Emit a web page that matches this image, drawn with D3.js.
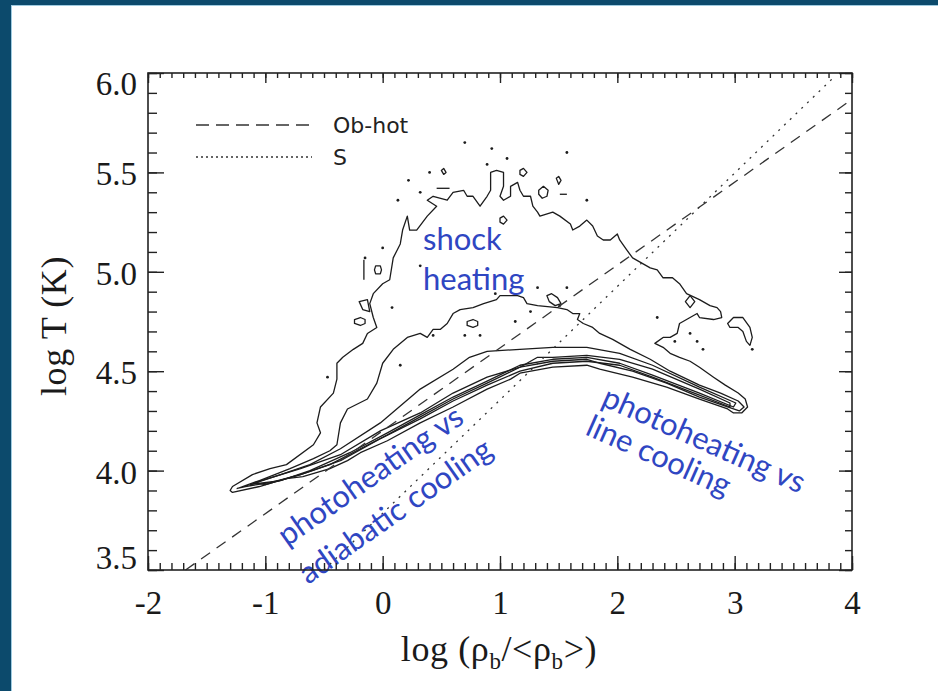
<!DOCTYPE html>
<html>
<head>
	<script src="https://d3js.org/d3.v7.min.js"></script>
	<title></title>
	<style type="text/css">
		body{ margin:0; background:#fff; }
		#chart{ width:938px; height:691px; }
		.contour { fill:none; stroke:#1c1c1c; stroke-width:1.3px; stroke-linejoin:round; }
		.ref { fill:none; stroke:#333; stroke-width:1.3px; }
		.tick text { font-family:"Liberation Serif", serif; font-size:33px; fill:#1a1a1a; }
		.note { font-family:Lato, sans-serif; font-size:31px; fill:#2f46c2; }
	</style>
</head>
<body>
<div id="chart"></div>
<script type="text/javascript">

// axis ticks
var xTicks = [-2, -1, 0, 1, 2, 3, 4];
var yTicks = [3.5, 4.0, 4.5, 5.0, 5.5, 6.0];

// reference lines (log rho, log T)
var obHot = [[-1.68, 3.50], [3.97, 5.855]];
var sLine = [[-0.50, 3.50], [3.83, 5.97]];

// contours, outermost first
var contour1 = [[-1.30,3.90],[-1.28,3.92],[-1.11,3.98],[-0.96,4.01],[-0.82,4.03],[-0.59,4.13],[-0.53,4.19],[-0.56,4.24],[-0.53,4.32],[-0.42,4.39],[-0.39,4.46],[-0.39,4.54],[-0.34,4.57],[-0.25,4.61],[-0.17,4.64],[-0.13,4.69],[-0.05,4.72],[-0.08,4.77],[-0.11,4.84],[-0.08,4.89],[0.00,4.94],[0.06,4.96],[0.09,5.07],[0.15,5.14],[0.17,5.21],[0.21,5.28],[0.23,5.21],[0.29,5.21],[0.38,5.28],[0.46,5.33],[0.38,5.36],[0.43,5.38],[0.55,5.36],[0.60,5.40],[0.69,5.41],[0.72,5.38],[0.77,5.38],[0.83,5.33],[0.89,5.38],[0.92,5.41],[0.92,5.50],[0.97,5.51],[1.03,5.50],[1.03,5.43],[1.00,5.38],[1.03,5.36],[1.09,5.38],[1.09,5.43],[1.15,5.45],[1.17,5.41],[1.20,5.38],[1.26,5.38],[1.28,5.33],[1.32,5.30],[1.34,5.28],[1.45,5.30],[1.51,5.28],[1.60,5.24],[1.62,5.21],[1.68,5.23],[1.74,5.26],[1.79,5.23],[1.83,5.18],[1.88,5.16],[1.94,5.16],[2.00,5.19],[2.02,5.16],[2.08,5.11],[2.13,5.07],[2.22,5.04],[2.28,5.02],[2.34,5.01],[2.39,4.97],[2.47,4.97],[2.53,4.94],[2.59,4.89],[2.70,4.86],[2.79,4.83],[2.85,4.82],[2.88,4.80],[2.89,4.77],[2.82,4.76],[2.70,4.77],[2.68,4.79],[2.59,4.76],[2.53,4.74],[2.51,4.69],[2.45,4.67],[2.39,4.67],[2.32,4.64],[2.39,4.62],[2.45,4.59],[2.53,4.57],[2.62,4.55],[2.70,4.52],[2.82,4.47],[2.92,4.43],[3.03,4.39],[3.09,4.36],[3.11,4.32],[3.06,4.29],[2.99,4.29],[2.94,4.31],[2.70,4.36],[2.42,4.42],[2.13,4.47],[1.85,4.51],[1.74,4.53],[1.45,4.52],[1.17,4.49],[1.09,4.46],[0.89,4.41],[0.60,4.32],[0.32,4.24],[0.04,4.15],[-0.19,4.09],[-0.30,4.05],[-0.45,4.01],[-0.68,3.97],[-0.82,3.96],[-0.94,3.94],[-1.05,3.92],[-1.28,3.89]];

var contour2 = [[-1.24,3.91],[-1.05,3.95],[-0.79,4.01],[-0.59,4.06],[-0.45,4.10],[-0.39,4.13],[-0.36,4.24],[-0.30,4.31],[-0.13,4.36],[-0.05,4.44],[0.00,4.54],[0.09,4.61],[0.21,4.67],[0.32,4.69],[0.38,4.67],[0.43,4.71],[0.49,4.71],[0.55,4.74],[0.60,4.79],[0.66,4.81],[0.77,4.82],[0.86,4.84],[0.97,4.86],[1.00,4.88],[1.15,4.88],[1.20,4.87],[1.23,4.84],[1.32,4.83],[1.49,4.82],[1.57,4.81],[1.62,4.79],[1.68,4.79],[1.66,4.76],[1.71,4.74],[1.79,4.72],[1.85,4.69],[1.96,4.66],[2.11,4.61],[2.28,4.56],[2.45,4.50],[2.70,4.43],[2.88,4.39],[3.03,4.35],[3.08,4.32],[3.04,4.30],[2.94,4.32],[2.70,4.37],[2.42,4.44],[2.13,4.50],[1.85,4.54],[1.74,4.56],[1.45,4.55],[1.17,4.52],[0.89,4.44],[0.60,4.36],[0.32,4.27],[0.04,4.18],[-0.19,4.11],[-0.45,4.03],[-0.70,3.98],[-0.96,3.94],[-1.17,3.92]];

var contour3 = [[-1.13,3.93],[-0.87,3.98],[-0.62,4.03],[-0.36,4.11],[-0.02,4.24],[0.32,4.41],[0.60,4.51],[0.74,4.57],[0.89,4.60],[1.17,4.61],[1.45,4.62],[1.74,4.62],[2.02,4.59],[2.30,4.53],[2.70,4.42],[3.01,4.34],[2.99,4.32],[2.70,4.39],[2.30,4.48],[2.02,4.54],[1.74,4.57],[1.45,4.56],[1.17,4.53],[0.89,4.45],[0.60,4.37],[0.32,4.28],[0.04,4.19],[-0.28,4.09],[-0.62,4.00],[-0.87,3.95]];

var contour4 = [[-1.09,3.94],[-0.70,4.01],[-0.36,4.08],[-0.02,4.20],[0.32,4.29],[0.60,4.39],[0.89,4.47],[1.17,4.52],[1.32,4.57],[1.45,4.57],[1.74,4.58],[2.02,4.56],[2.30,4.51],[2.70,4.41],[2.96,4.34],[2.96,4.32],[2.70,4.38],[2.30,4.47],[2.02,4.53],[1.74,4.55],[1.45,4.54],[1.17,4.50],[0.89,4.43],[0.60,4.35],[0.32,4.26],[-0.02,4.16],[-0.36,4.05],[-0.70,3.98],[-1.00,3.93]];

// small closed islands of the outer level
var islands = [
	[[-0.06,5.03],[-0.02,5.03],[-0.01,5.01],[-0.02,4.99],[-0.06,4.99],[-0.07,5.01]],
	[[-0.24,4.76],[-0.19,4.77],[-0.15,4.76],[-0.15,4.74],[-0.19,4.73],[-0.24,4.74]],
	[[-0.20,4.85],[-0.13,4.86],[-0.11,4.80],[-0.17,4.81]],
	[[1.17,5.51],[1.20,5.52],[1.23,5.50],[1.20,5.48],[1.17,5.49]],
	[[1.33,5.41],[1.37,5.43],[1.41,5.41],[1.40,5.38],[1.36,5.37],[1.33,5.39]],
	[[1.00,5.27],[1.03,5.28],[1.06,5.26],[1.03,5.24],[1.00,5.25]],
	[[1.48,5.47],[1.50,5.48],[1.52,5.46],[1.50,5.44]],
	[[0.50,5.51],[0.52,5.52],[0.54,5.50],[0.52,5.49]],
	[[0.72,4.75],[0.77,4.76],[0.81,4.75],[0.81,4.73],[0.77,4.72],[0.72,4.73]],
	[[1.40,4.88],[1.44,4.89],[1.49,4.87],[1.52,4.84],[1.47,4.83],[1.42,4.85]],
	[[2.58,4.85],[2.62,4.88],[2.66,4.85],[2.62,4.82]],
	[[2.94,4.74],[2.99,4.77],[3.07,4.77],[3.13,4.72],[3.15,4.67],[3.13,4.63],[3.10,4.65],[3.07,4.70],[3.03,4.72],[2.96,4.72]]
];

// short open bits
var bits = [
	[[0.46,5.42],[0.57,5.42]],
	[[1.51,5.39],[1.57,5.39]],
	[[-0.16,5.06],[-0.16,4.96]]
];

// single specks
var specks = [[0.70,5.65],[1.57,5.60],[1.74,5.36],[0.40,5.50],[0.22,5.46],[0.32,5.40],[0.13,5.36],[0.89,5.54],[1.06,5.57],[0.93,5.62],[-0.15,5.07],[0.00,5.12],[0.32,5.03],[0.96,4.89],[1.13,4.75],[1.26,4.80],[1.51,4.83],[0.08,4.82],[0.15,4.53],[-0.47,4.47],[1.57,4.92],[1.32,4.92],[0.83,4.68],[0.70,4.68],[0.43,4.68],[2.34,4.77],[2.49,4.65],[2.62,4.69],[2.68,4.65],[2.73,4.61],[3.15,4.61]];

var legendLabels = ["Ob-hot", "S"];

var W = 938, H = 691;
var pLeft = 148, pRight = 852, pTop = 73, pBottom = 570;

var svg = d3.select("#chart").append("svg")
	.attr("width", W).attr("height", H);

// slide frame
svg.append("rect").attr("x", 0).attr("y", 0).attr("width", W).attr("height", 5).attr("fill", "#0c4a6c");
svg.append("rect").attr("x", 0).attr("y", 0).attr("width", 11).attr("height", H).attr("fill", "#0c4a6c");
svg.append("line").attr("x1", 11).attr("x2", W).attr("y1", 5.5).attr("y2", 5.5).attr("stroke", "#9fcbe0").attr("stroke-width", 1);
svg.append("line").attr("x1", 11.5).attr("x2", 11.5).attr("y1", 5).attr("y2", H).attr("stroke", "#9fcbe0").attr("stroke-width", 1);

var x = d3.scaleLinear().domain([-2, 4]).range([pLeft, pRight]);
var y = d3.scaleLinear().domain([3.5, 6]).range([pBottom, pTop]);

var line = d3.line().x(function(d){ return x(d[0]); }).y(function(d){ return y(d[1]); });

var plot = svg.append("g");

[contour1, contour2, contour3, contour4].forEach(function(c){
	plot.append("path").attr("class", "contour").attr("d", line(c) + "Z");
});
islands.forEach(function(c){
	plot.append("path").attr("class", "contour").attr("d", line(c) + "Z");
});
bits.forEach(function(c){
	plot.append("path").attr("class", "contour").attr("stroke-width", 2).attr("d", line(c));
});
plot.selectAll("circle.speck").data(specks).enter().append("circle")
	.attr("class", "speck")
	.attr("cx", function(d){ return x(d[0]); })
	.attr("cy", function(d){ return y(d[1]); })
	.attr("r", 1.4).attr("fill", "#1c1c1c");

plot.append("path").attr("class", "ref").attr("stroke-dasharray", "11,8").attr("d", line(obHot));
plot.append("path").attr("class", "ref").attr("stroke-dasharray", "2,6").attr("stroke-width", 1.8).attr("d", line(sLine));

// legend
var lg = svg.append("g");
lg.append("line").attr("x1", 196).attr("x2", 312).attr("y1", 125).attr("y2", 125)
	.attr("class", "ref").attr("stroke-dasharray", "13,7");
lg.append("line").attr("x1", 196).attr("x2", 312).attr("y1", 157).attr("y2", 157)
	.attr("class", "ref").attr("stroke-dasharray", "2,3").attr("stroke-width", 1.6);
lg.selectAll("text").data(legendLabels).enter().append("text")
	.attr("x", 333).attr("y", function(d, i){ return 133 + i * 32; })
	.attr("font-family", "DejaVu Sans, sans-serif").attr("font-size", 22).attr("fill", "#222")
	.text(function(d){ return d; });

// annotations
var notes = svg.append("g");
notes.append("text").attr("class", "note").attr("x", 423).attr("y", 250).text("shock");
notes.append("text").attr("class", "note").attr("x", 423).attr("y", 290).text("heating");
notes.append("text").attr("class", "note").attr("transform", "translate(287,547) rotate(-35)").text("photoheating vs");
notes.append("text").attr("class", "note").attr("transform", "translate(308,585) rotate(-35)").text("adiabatic cooling");
notes.append("text").attr("class", "note").attr("transform", "translate(600,405) rotate(24)").text("photoheating vs");
notes.append("text").attr("class", "note").attr("transform", "translate(584,434) rotate(24)").text("line cooling");

// axes
var fmtX = function(d){ return String(d); };
var fmtY = function(d){ return d.toFixed(1); };
var xMinor = d3.range(-2, 4.001, 0.1);
var yMinor = d3.range(3.5, 6.001, 0.1);

function strip(g){ g.select(".domain").remove(); g.selectAll(".tick line").attr("stroke", "#222").attr("stroke-width", 1.4); }

svg.append("g").attr("transform", "translate(0," + pBottom + ")")
	.call(d3.axisBottom(x).tickValues(xMinor).tickSize(-7).tickFormat("")).call(strip);
svg.append("g").attr("transform", "translate(0," + pBottom + ")")
	.call(d3.axisBottom(x).tickValues(xTicks).tickSize(-14).tickPadding(21).tickFormat(fmtX)).call(strip);
svg.append("g").attr("transform", "translate(0," + pTop + ")")
	.call(d3.axisTop(x).tickValues(xMinor).tickSize(-5).tickFormat("")).call(strip);
svg.append("g").attr("transform", "translate(0," + pTop + ")")
	.call(d3.axisTop(x).tickValues(xTicks).tickSize(-10).tickFormat("")).call(strip);

svg.append("g").attr("transform", "translate(" + pLeft + ",0)")
	.call(d3.axisLeft(y).tickValues(yMinor).tickSize(-9).tickFormat("")).call(strip);
var yAx = svg.append("g").attr("transform", "translate(" + pLeft + ",0)")
	.call(d3.axisLeft(y).tickValues(yTicks).tickSize(-16).tickPadding(11).tickFormat(fmtY)).call(strip);
yAx.selectAll(".tick text").attr("dy", function(d){
	if (d === 6.0) return "0.66em";
	if (d === 3.5) return "-0.05em";
	return "0.38em";
});
svg.append("g").attr("transform", "translate(" + pRight + ",0)")
	.call(d3.axisRight(y).tickValues(yMinor).tickSize(-7).tickFormat("")).call(strip);
svg.append("g").attr("transform", "translate(" + pRight + ",0)")
	.call(d3.axisRight(y).tickValues(yTicks).tickSize(-13).tickFormat("")).call(strip);

svg.append("rect").attr("x", pLeft).attr("y", pTop).attr("width", pRight - pLeft).attr("height", pBottom - pTop)
	.attr("fill", "none").attr("stroke", "#222").attr("stroke-width", 1.6);

// axis titles
var xt = svg.append("text").attr("x", 499).attr("y", 661)
	.attr("text-anchor", "middle").attr("font-family", "Liberation Serif, serif").attr("font-size", 36)
	.attr("letter-spacing", 0.6).attr("fill", "#1a1a1a");
xt.append("tspan").text("log (\u03c1");
xt.append("tspan").attr("font-size", 23).attr("dy", 8).text("b");
xt.append("tspan").attr("dy", -8).text("/<\u03c1");
xt.append("tspan").attr("font-size", 23).attr("dy", 8).text("b");
xt.append("tspan").attr("dy", -8).text(">)");

svg.append("text").attr("transform", "translate(66,326) rotate(-90)")
	.attr("text-anchor", "middle").attr("font-family", "Liberation Serif, serif").attr("font-size", 36)
	.attr("letter-spacing", 0.6).attr("fill", "#1a1a1a")
	.text("log T (K)");

</script>
</body>
</html>
